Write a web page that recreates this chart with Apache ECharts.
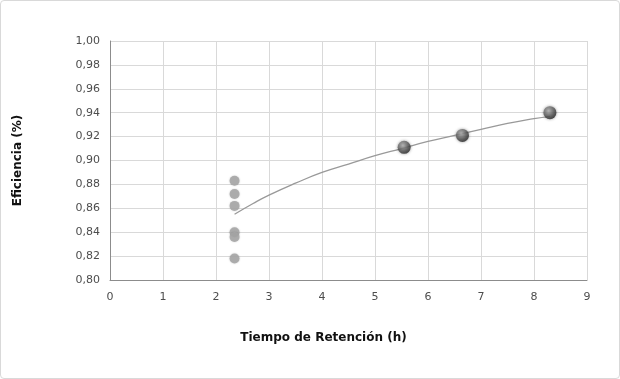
<!DOCTYPE html>
<html>
<head>
<meta charset="utf-8">
<script src="https://cdn.jsdelivr.net/npm/echarts@6/dist/echarts.min.js"></script>
<style>
  html, body { margin: 0; padding: 0; background: #fff; }
  #chart { width: 620px; height: 379px; box-sizing: border-box; border: 1px solid #d9d9d9; border-radius: 4px; }
</style>
</head>
<body>
<div id="chart"></div>
<script>
// Puntos medidos (tiempo de retención, eficiencia)
const tiempoBajo = [2.35, 2.35, 2.35, 2.35, 2.35, 2.35];
const eficienciaBajo = [0.883, 0.872, 0.862, 0.840, 0.836, 0.818];
const tiempoAlto = [5.55, 6.65, 8.3];
const eficienciaAlto = [0.911, 0.921, 0.940];

// Línea de tendencia (logarítmica)
const tendenciaX = [2.35, 2.7, 3, 3.5, 4, 4.5, 5, 5.5, 6, 6.5, 7, 7.5, 8, 8.3];
const tendenciaY = [0.855, 0.864, 0.871, 0.881, 0.890, 0.897, 0.904, 0.910, 0.916, 0.921, 0.926, 0.931, 0.935, 0.937];

const chart = echarts.init(document.getElementById('chart'));

const puntoOscuro = {
  type: 'radial', x: 0.4, y: 0.35, r: 0.7,
  colorStops: [
    { offset: 0, color: '#b8b8b8' },
    { offset: 0.5, color: '#6a6a6a' },
    { offset: 1, color: '#1e1e1e' }
  ]
};

chart.setOption({
  animation: false,
  grid: { left: 109, right: 32, top: 40, bottom: 98 },
  xAxis: {
    type: 'value', min: 0, max: 9, interval: 1,
    name: 'Tiempo de Retención (h)', nameLocation: 'middle', nameGap: 52,
    nameTextStyle: { fontFamily: 'DejaVu Sans', fontSize: 12, fontWeight: 'bold', color: '#111', padding: [0, 50, 0, 0] },
    axisLine: { show: true, lineStyle: { color: '#8c8c8c' } },
    axisTick: { show: false },
    axisLabel: { fontFamily: 'DejaVu Sans', fontSize: 11, color: '#4d4d4d', margin: 12 },
    splitLine: { show: true, lineStyle: { color: '#d9d9d9' } }
  },
  yAxis: {
    type: 'value', min: 0.80, max: 1.00, interval: 0.02,
    name: 'Eficiencia (%)', nameLocation: 'middle', nameGap: 86, nameRotate: 90,
    nameTextStyle: { fontFamily: 'DejaVu Sans', fontSize: 12, fontWeight: 'bold', color: '#111' },
    axisLine: { show: true, lineStyle: { color: '#8c8c8c' } },
    axisTick: { show: false },
    axisLabel: {
      fontFamily: 'DejaVu Sans', fontSize: 11, color: '#4d4d4d', margin: 10,
      formatter: v => v.toFixed(2).replace('.', ',')
    },
    splitLine: { show: true, lineStyle: { color: '#d9d9d9' } }
  },
  series: [
    {
      type: 'line',
      data: tendenciaX.map((x, i) => [x, tendenciaY[i]]),
      smooth: true, symbol: 'none',
      lineStyle: { color: '#999999', width: 1.3 },
      z: 3
    },
    {
      type: 'scatter',
      data: tiempoBajo.map((x, i) => [x, eficienciaBajo[i]]),
      symbolSize: 10,
      itemStyle: { color: '#a6a6a6', opacity: 0.9, shadowBlur: 2, shadowColor: 'rgba(0,0,0,0.2)' },
      z: 4
    },
    {
      type: 'scatter',
      data: tiempoAlto.map((x, i) => [x, eficienciaAlto[i]]),
      symbolSize: 13,
      itemStyle: { color: puntoOscuro, shadowBlur: 3, shadowColor: 'rgba(0,0,0,0.5)' },
      z: 5
    }
  ]
});
</script>
</body>
</html>
